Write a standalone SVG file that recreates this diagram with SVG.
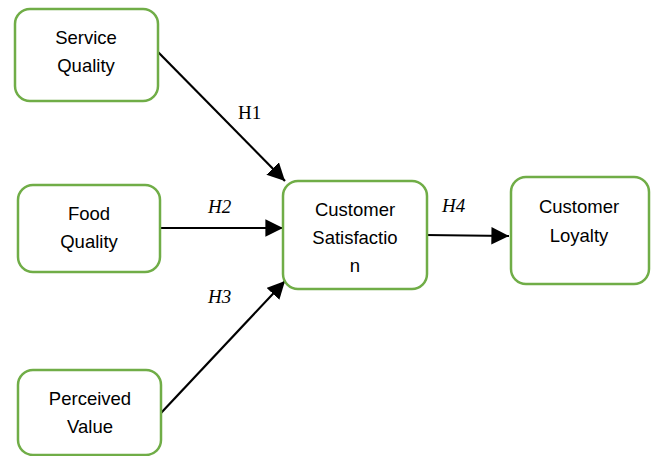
<svg xmlns="http://www.w3.org/2000/svg" width="654" height="456" viewBox="0 0 654 456">
<style>
.box{fill:#fff;stroke:#70AD47;stroke-width:2.5}
.t{font-family:"Liberation Sans",Arial,sans-serif;font-size:18.5px;fill:#000;text-anchor:middle}
.h{font-family:"Liberation Serif","Times New Roman",serif;font-size:19px;fill:#000}
.c{stroke:#000;stroke-width:2.2;fill:none;marker-end:url(#ah)}
</style>
<defs>
<marker id="ah" viewBox="0 0 10 10" refX="10" refY="5" markerWidth="8" markerHeight="8" markerUnits="strokeWidth" orient="auto">
<path d="M0,0 L10,5 L0,10 z" fill="#000"/>
</marker>
</defs>
<rect width="654" height="456" fill="#fff"/>
<g id="connectors">
<line class="c" x1="158" y1="52" x2="285" y2="181"/>
<line class="c" x1="160" y1="228" x2="283" y2="228"/>
<line class="c" x1="161" y1="413" x2="285" y2="281"/>
<line class="c" x1="425" y1="235" x2="509" y2="236"/>
<text class="h" x="238" y="119">H1</text>
<text class="h" x="208" y="213" font-style="italic">H2</text>
<text class="h" x="208" y="303" font-style="italic">H3</text>
<text class="h" x="442" y="212" font-style="italic">H4</text>
</g>
<g id="service-quality">
<rect class="box" x="15" y="9" width="143" height="92" rx="15"/>
<text class="t" x="86" y="44">Service</text>
<text class="t" x="86" y="72">Quality</text>
</g>
<g id="food-quality">
<rect class="box" x="18" y="185" width="142" height="87" rx="15"/>
<text class="t" x="89" y="220">Food</text>
<text class="t" x="89" y="248">Quality</text>
</g>
<g id="perceived-value">
<rect class="box" x="18" y="370" width="143" height="85" rx="15"/>
<text class="t" x="90" y="405">Perceived</text>
<text class="t" x="90" y="433">Value</text>
</g>
<g id="customer-satisfaction">
<rect class="box" x="283" y="181" width="144" height="108" rx="15"/>
<text class="t" x="355" y="216">Customer</text>
<text class="t" x="355" y="244">Satisfactio</text>
<text class="t" x="355" y="272">n</text>
</g>
<g id="customer-loyalty">
<rect class="box" x="511" y="177" width="138" height="107" rx="15"/>
<text class="t" x="579" y="213">Customer</text>
<text class="t" x="579" y="242">Loyalty</text>
</g>
</svg>
